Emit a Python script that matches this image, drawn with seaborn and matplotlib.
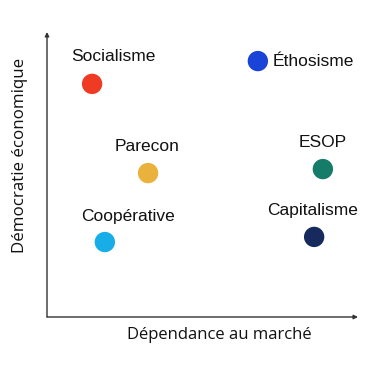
import matplotlib
matplotlib.use("Agg")
import matplotlib.pyplot as plt
import seaborn as sns
import pandas as pd

names = ["Socialisme", "Éthosisme", "Parecon", "ESOP", "Coopérative", "Capitalisme"]
market = [14.5, 67.8, 32.5, 88.7, 18.6, 85.9]
democracy = [81.8, 89.8, 50.5, 51.9, 26.3, 28.1]
colors = ["#F03B24", "#1A44D8", "#E9B23C", "#157C69", "#17AEE8", "#172A5E"]

df = pd.DataFrame({"name": names, "x": market, "y": democracy})

sns.set_theme(style="white")
plt.rcParams["font.family"] = ["Liberation Sans", "DejaVu Sans"]

fig = plt.figure(figsize=(3.75, 3.75), dpi=100)
ax = fig.add_axes([47/375, 58/375, 311/375, 285/375])

sns.scatterplot(data=df, x="x", y="y", hue="name", palette=colors,
                s=215, linewidth=0, legend=False, ax=ax)
ax.set_xlim(0, 100)
ax.set_ylim(0, 100)

offsets = {
    "Socialisme": (21, 27, "center"),
    "Éthosisme": (15, 0, "left"),
    "Parecon": (-1, 27, "center"),
    "ESOP": (0, 27, "center"),
    "Coopérative": (23, 26, "center"),
    "Capitalisme": (-2, 26, "center"),
}
for n, xv, yv in zip(names, market, democracy):
    dx, dy, ha = offsets[n]
    ax.annotate(n, (xv, yv), xytext=(dx, dy), textcoords="offset pixels",
                ha=ha, va="center", fontsize=12.5, color="#111111")

for s in ax.spines.values():
    s.set_visible(False)
ax.set_xticks([])
ax.set_yticks([])
ax.set_xlabel("")
ax.set_ylabel("")

ap = dict(arrowstyle="-|>", color="#333333", lw=1.0, mutation_scale=6, shrinkA=0, shrinkB=0)
ax.annotate("", xy=(1.0, 0), xytext=(0, 0), xycoords="axes fraction", arrowprops=ap)
ax.annotate("", xy=(0, 1.0), xytext=(0, 0), xycoords="axes fraction", arrowprops=ap)

fig.text(219/375, 1 - 335/375, "Dépendance au marché", ha="center", va="center",
         fontsize=12, color="#111111", family=["Open Sans", "DejaVu Sans"])
fig.text(20/375, 1 - 155/375, "Démocratie économique", ha="center", va="center",
         rotation=90, fontsize=12.2, color="#111111", family=["Open Sans", "DejaVu Sans"])

fig.savefig("out.png", dpi=100, facecolor="white")
